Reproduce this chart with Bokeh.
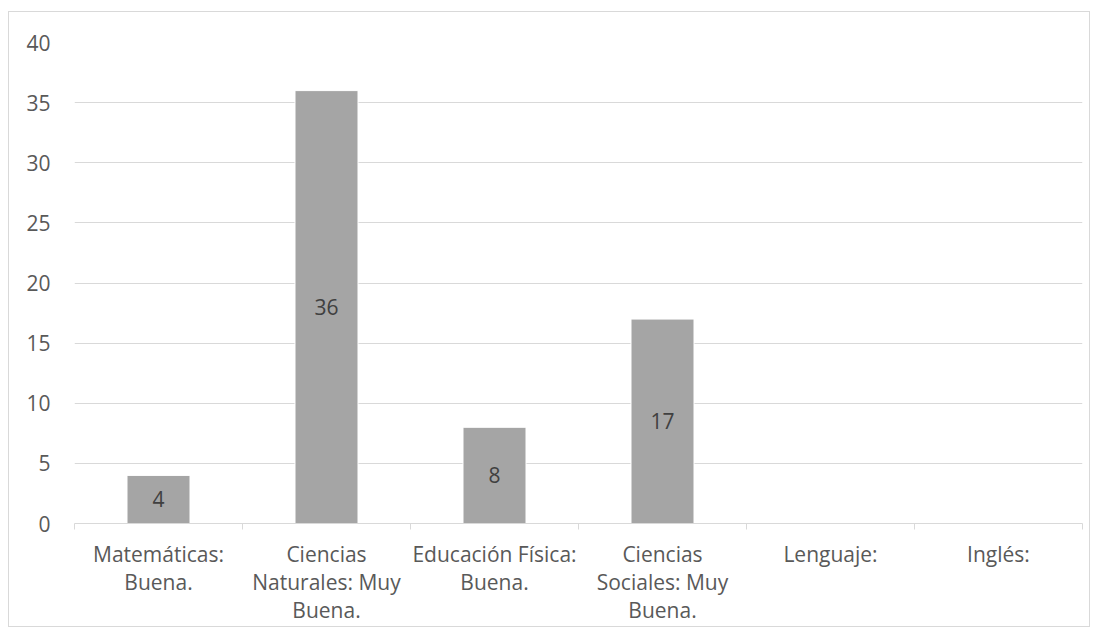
from bokeh.plotting import figure
from bokeh.models import ColumnDataSource, LinearAxis, FixedTicker, Range1d, LabelSet, Grid
from bokeh.core.properties import value
from bokeh.embed import file_html
from bokeh.resources import INLINE

categories = ["Matemáticas:\nBuena.", "Ciencias\nNaturales: Muy\nBuena.", "Educación Física:\nBuena.",
              "Ciencias\nSociales: Muy\nBuena.", "Lenguaje:", "Inglés:"]
values = [4, 36, 8, 17, None, None]
y_ticks = [0, 5, 10, 15, 20, 25, 30, 35, 40]

FONT = "Open Sans"
TXT = "#595959"
FS = "21px"

xs = [i + 0.5 for i in range(len(categories))]
bar_x = [x for x, v in zip(xs, values) if v is not None]
bar_v = [v for v in values if v is not None]
src = ColumnDataSource(dict(x=bar_x, top=bar_v, mid=[v / 2 for v in bar_v], lab=[str(v) for v in bar_v]))

p = figure(frame_width=1008, frame_height=481, output_backend="svg", toolbar_location=None,
           x_range=Range1d(0, len(categories)), y_range=Range1d(0, 40),
           x_axis_location=None, y_axis_location=None,
           min_border_left=65, min_border_top=30, min_border_right=7, min_border_bottom=6)
p.styles = {"border": "1px solid #d9d9d9", "margin-left": "8px", "margin-top": "11px"}
p.outline_line_color = None
p.background_fill_color = "white"
p.border_fill_color = "white"
p.xgrid.grid_line_color = None
p.ygrid.grid_line_color = None
p.add_layout(Grid(dimension=1, ticker=FixedTicker(ticks=y_ticks[1:]), grid_line_color="#d9d9d9"))

p.vbar(x="x", top="top", width=0.375, source=src, fill_color="#a5a5a5", line_color="white", line_width=1)

labels = LabelSet(x="x", y="mid", text="lab", source=src, text_align="center", text_baseline="middle",
                  text_font=value(FONT), text_font_size=value(FS), text_color="#404040")
p.add_layout(labels)

# y axis
yax = LinearAxis(ticker=FixedTicker(ticks=y_ticks))
yax.axis_line_color = None
yax.major_tick_line_color = None
yax.minor_tick_line_color = None
yax.major_tick_out = 0
yax.major_label_standoff = 24
yax.major_label_text_font = FONT
yax.major_label_text_font_size = FS
yax.major_label_text_color = TXT
p.add_layout(yax, "left")

# x axis: boundary ticks
xax = LinearAxis(ticker=FixedTicker(ticks=list(range(len(categories) + 1))))
xax.axis_line_color = "#d9d9d9"
xax.major_tick_line_color = "#d9d9d9"
xax.major_tick_out = 6
xax.major_tick_in = 0
xax.minor_tick_line_color = None
xax.major_label_overrides = {i: "" for i in range(len(categories) + 1)}
xax.major_label_text_font_size = "1px"
xax.major_label_standoff = 0
p.add_layout(xax, "below")

# x axis: category labels
xlab = LinearAxis(ticker=FixedTicker(ticks=xs))
xlab.axis_line_color = None
xlab.major_tick_line_color = None
xlab.minor_tick_line_color = None
xlab.major_tick_out = 0
xlab.major_tick_in = 0
xlab.major_label_standoff = 10
xlab.major_label_overrides = {x: c for x, c in zip(xs, categories)}
xlab.major_label_text_font = FONT
xlab.major_label_text_font_size = FS
xlab.major_label_text_color = TXT
xlab.major_label_text_line_height = 1.0
p.add_layout(xlab, "below")

open("out.html", "w").write(file_html(p, INLINE))
